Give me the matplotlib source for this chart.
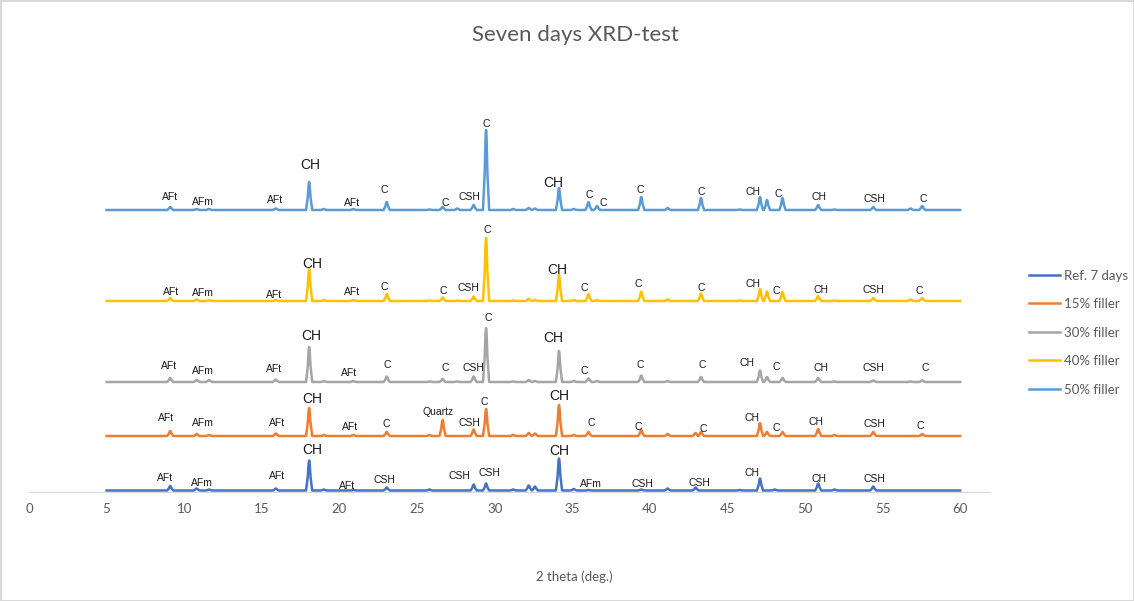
import matplotlib
matplotlib.use('Agg')
import numpy as np
from matplotlib import pyplot as plt

# XRD peaks (2 theta, deg) and their heights above each trace baseline
peak_pos = [9.1, 10.8, 11.6, 15.9, 18.05, 19.0, 20.9, 23.05, 25.8, 26.65, 27.6, 28.65, 29.45,
            31.2, 32.2, 32.6, 34.15, 35.1, 36.05, 36.6, 39.45, 41.15, 42.95, 43.3, 45.8,
            47.1, 47.55, 48.05, 48.55, 50.85, 51.9, 54.4, 56.8, 57.55]
ref_int = [4.5, 2, 1, 2, 30, 1, 0.5, 3, 1, 0, 0, 6, 7,
           1, 5, 4, 32, 1.5, 0.5, 0, 1, 2, 3, 0, 0.5,
           12, 0, 1, 0, 7, 1, 4, 0, 0]
f15_int = [5, 2, 1, 2.5, 28, 1, 1, 4, 1, 16, 0, 6.5, 27,
           1, 3, 2.5, 31, 1, 4, 0, 6, 2, 3, 4, 0,
           13, 4, 0, 4, 7, 1, 4, 0, 2]
f30_int = [4, 2, 2, 2.5, 35, 1, 1, 5.5, 0.5, 3, 0.5, 5.5, 54,
           0.5, 2, 1, 31, 1, 3.5, 1, 6.5, 1, 0, 5, 0,
           11.5, 5, 0, 4, 4, 0.5, 1.5, 0.5, 1.5]
f40_int = [3, 1.5, 1, 1, 32, 1, 1, 7, 0.5, 3.5, 0.5, 4.5, 63,
           0.5, 2, 1, 26, 1, 7, 1, 9.5, 1.5, 0, 7.5, 0.5,
           12, 9.5, 0, 9, 5, 0.5, 3, 1.5, 3]
f50_int = [3, 1, 1, 1.5, 28, 1, 1, 8, 0.5, 3, 1.5, 5, 80,
           1, 2, 1.5, 22, 1, 8, 4, 13, 2, 0, 12, 0.5,
           13, 10, 0, 12, 5, 0.5, 3, 1.5, 4]

series_names = ['Ref. 7 days', '15% filler', '30% filler', '40% filler', '50% filler']
series_int = [ref_int, f15_int, f30_int, f40_int, f50_int]
offsets = [1.5, 56, 110, 191, 282]   # vertical shift of each trace
colors = ['#4472C4', '#ED7D31', '#A5A5A5', '#FFC000', '#5B9BD5']

# phase labels: text, 2 theta, height
ref_lab = [('AFt', 8.76, 14), ('AFm', 11.15, 9), ('AFt', 15.98, 16), ('CH', 18.23, 42),
           ('AFt', 20.49, 6), ('CSH', 22.87, 12), ('CSH', 27.71, 16), ('CSH', 29.64, 19),
           ('CH', 34.15, 41), ('AFm', 36.21, 8), ('CSH', 39.5, 8), ('CSH', 43.23, 9),
           ('CH', 46.59, 19), ('CH', 50.9, 13), ('CSH', 54.45, 13)]
f15_lab = [('AFt', 8.83, 74), ('AFm', 11.21, 69), ('AFt', 15.98, 69), ('CH', 18.23, 93),
           ('AFt', 20.68, 65), ('C', 23.0, 68), ('Quartz', 26.35, 80), ('CSH', 28.41, 69),
           ('C', 29.32, 90), ('CH', 34.15, 96), ('C', 36.21, 69), ('C', 39.24, 65),
           ('C', 43.43, 63), ('CH', 46.59, 74), ('C', 48.13, 64), ('CH', 50.71, 70),
           ('CSH', 54.45, 68), ('C', 57.41, 66)]
f30_lab = [('AFt', 9.02, 126), ('AFm', 11.21, 121), ('AFt', 15.79, 123), ('CH', 18.17, 156),
           ('AFt', 20.62, 119), ('C', 23.07, 127), ('C', 26.8, 124), ('CSH', 28.61, 124),
           ('C', 29.57, 174), ('CH', 33.76, 154), ('C', 35.76, 121), ('C', 39.37, 127),
           ('C', 43.36, 127), ('CH', 46.26, 129), ('C', 48.13, 125), ('CH', 51.03, 124),
           ('CSH', 54.38, 124), ('C', 57.73, 124)]
f40_lab = [('AFt', 9.15, 200), ('AFm', 11.21, 199), ('AFt', 15.79, 197), ('CH', 18.23, 228),
           ('AFt', 20.81, 200), ('C', 22.87, 205), ('C', 26.68, 201), ('CSH', 28.29, 204),
           ('C', 29.51, 262), ('CH', 34.02, 222), ('C', 35.76, 204), ('C', 39.24, 208),
           ('C', 43.3, 204), ('CH', 46.65, 208), ('C', 48.13, 201), ('CH', 51.03, 202),
           ('CSH', 54.38, 202), ('C', 57.35, 201)]
f50_lab = [('AFt', 9.09, 295), ('AFm', 11.21, 290), ('AFt', 15.85, 292), ('CH', 18.11, 327),
           ('AFt', 20.81, 289), ('C', 22.87, 302), ('C', 26.8, 289), ('CSH', 28.35, 295),
           ('C', 29.45, 368), ('CH', 33.76, 309), ('C', 36.08, 297), ('C', 36.98, 289),
           ('C', 39.37, 302), ('C', 43.3, 300), ('CH', 46.65, 300), ('C', 48.26, 298),
           ('CH', 50.9, 295), ('CSH', 54.45, 293), ('C', 57.6, 293)]
all_labels = [ref_lab, f15_lab, f30_lab, f40_lab, f50_lab]

x_ticks = list(range(0, 61, 5))


def trace(heights):
    # baseline from 5 to 60 with a narrow peak at each read position
    pts = [(5.0, 0.0), (60.0, 0.0)]
    for c, h in zip(peak_pos, heights):
        if h > 0:
            pts += [(c - 0.2, 0), (c - 0.09, 0.45 * h), (c - 0.03, 0.92 * h), (c, h),
                    (c + 0.03, 0.92 * h), (c + 0.09, 0.45 * h), (c + 0.2, 0)]
    pts.sort()
    return [p[0] for p in pts], [p[1] for p in pts]


fig = plt.figure(figsize=(11.34, 6.01), dpi=100)
fig.patch.set_edgecolor('#D9D9D9')
fig.patch.set_linewidth(1)
ax = fig.add_axes([29 / 1134, 109 / 601, (990 - 29) / 1134, 400 / 601])

lines = []
for name, ints, off, col in zip(series_names, series_int, offsets, colors):
    xs, ys = trace(ints)
    ln, = ax.plot(xs, np.array(ys) + off, color=col, lw=1.8, label=name, solid_joinstyle='round')
    lines.append(ln)

for labs in all_labels:
    for txt, xx, yy in labs:
        big = txt == 'CH' and (abs(xx - 18.1) < 0.5 or abs(xx - 34) < 0.5)
        ax.text(xx, yy, txt, ha='center', va='center', fontsize=10 if big else 7.5,
                family='Liberation Sans', color='#1a1a1a')

ax.set_xlim(0, 61.92)
ax.set_ylim(0, 400)
ax.set_xticks(x_ticks)
ax.set_yticks([])
for s in ['left', 'top', 'right']:
    ax.spines[s].set_visible(False)
ax.spines['bottom'].set_color('#D9D9D9')
ax.tick_params(axis='x', length=0, pad=8, labelsize=9.5, labelcolor='#595959')
for t in ax.get_xticklabels():
    t.set_family('Lato')

fig.text(575 / 1134, 1 - 35 / 601, 'Seven days XRD-test', ha='center', va='center',
         fontsize=16, color='#595959', family='Lato')
fig.text(574 / 1134, 1 - 577 / 601, '2 theta (deg.)', ha='center', va='center',
         fontsize=9.5, color='#595959', family='Lato')

fig.legend(handles=lines, loc='upper left', bbox_to_anchor=(1022 / 1134, 1 - 263 / 601),
           frameon=False, handlelength=2.4, handletextpad=0.3,
           labelspacing=1.25, borderpad=0, prop={'family': 'Lato', 'size': 9.5},
           labelcolor='#595959')

fig.savefig('out.png', dpi=100)
